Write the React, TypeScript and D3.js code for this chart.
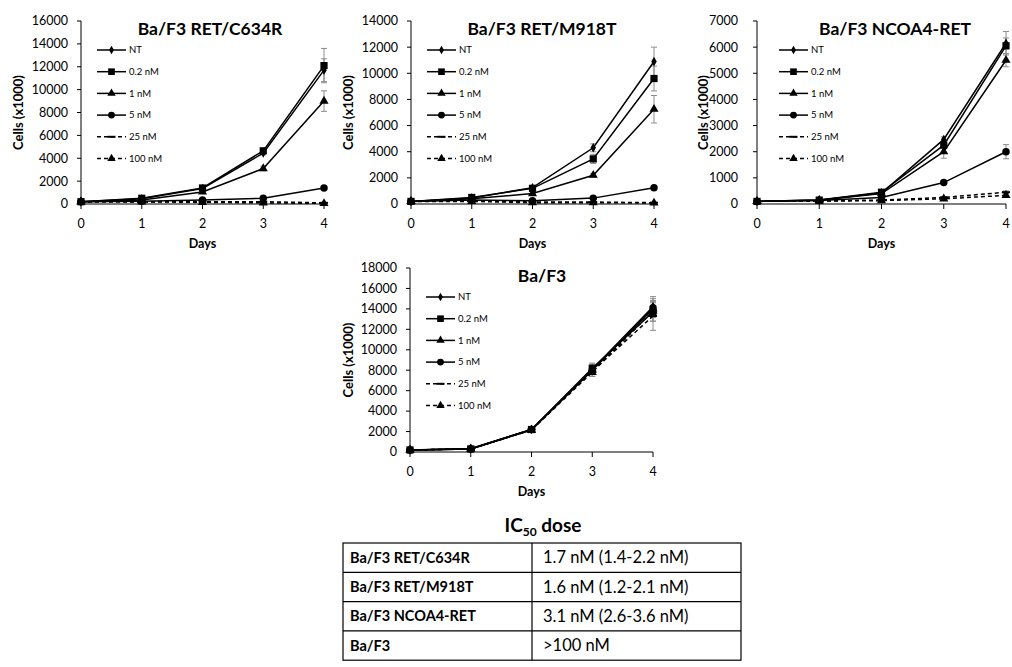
import React from 'react';
import * as d3 from 'd3';

// days on the x axis
const DAYS = [0, 1, 2, 3, 4];
const DOSES = ['NT', '0.2 nM', '1 nM', '5 nM', '25 nM', '100 nM'];

// Ba/F3 RET/C634R
const C634R_VALUES = [
  [200, 450, 1350, 4450, 11700],
  [200, 500, 1400, 4650, 12100],
  [200, 350, 1050, 3100, 9000],
  [200, 250, 350, 500, 1400],
  [200, 200, 200, 200, 100],
  [200, 180, 150, 100, 50],
];
const C634R_ERRORS = [
  [20, 30, 80, 150, 1000],
  [20, 30, 80, 200, 1500],
  [20, 20, 60, 200, 900],
  [10, 20, 30, 50, 100],
  [10, 10, 20, 20, 20],
  [10, 10, 10, 10, 10],
];

// Ba/F3 RET/M918T
const M918T_VALUES = [
  [200, 450, 1250, 4300, 10900],
  [200, 500, 1200, 3450, 9600],
  [200, 400, 800, 2200, 7250],
  [200, 300, 250, 450, 1250],
  [200, 250, 150, 150, 100],
  [200, 200, 100, 100, 80],
];
const M918T_ERRORS = [
  [20, 30, 60, 300, 1100],
  [20, 30, 60, 350, 950],
  [20, 20, 50, 150, 1050],
  [10, 20, 30, 50, 80],
  [10, 10, 20, 20, 20],
  [10, 10, 10, 10, 10],
];

// Ba/F3 NCOA4-RET
const NCOA4_VALUES = [
  [100, 150, 420, 2470, 6150],
  [100, 150, 450, 2250, 6050],
  [100, 140, 400, 2000, 5500],
  [100, 130, 250, 820, 2000],
  [100, 120, 150, 250, 450],
  [100, 110, 130, 200, 330],
];
const NCOA4_ERRORS = [
  [10, 10, 30, 100, 450],
  [10, 10, 30, 100, 300],
  [10, 10, 30, 250, 250],
  [10, 10, 20, 50, 270],
  [5, 5, 10, 30, 50],
  [5, 5, 10, 30, 50],
];

// Ba/F3 parental
const BAF3_VALUES = [
  [200, 350, 2200, 8100, 14200],
  [200, 300, 2200, 8200, 13700],
  [200, 300, 2150, 8000, 14000],
  [200, 300, 2200, 8000, 14100],
  [200, 300, 2200, 7900, 13300],
  [200, 300, 2150, 7800, 13800],
];
const BAF3_ERRORS = [
  [20, 30, 100, 500, 1000],
  [20, 30, 100, 500, 900],
  [20, 30, 100, 400, 800],
  [20, 30, 100, 400, 900],
  [20, 30, 100, 500, 1400],
  [20, 30, 100, 400, 1000],
];

// IC50 table
const IC50_LINES = ['Ba/F3 RET/C634R', 'Ba/F3 RET/M918T', 'Ba/F3 NCOA4-RET', 'Ba/F3'];
const IC50_DOSES = ['1.7 nM (1.4-2.2 nM)', '1.6 nM (1.2-2.1 nM)', '3.1 nM (2.6-3.6 nM)', '>100 nM'];

const FONT = 'Lato, "Open Sans", sans-serif';

const marker = (i: number, size = 1) => {
  const types = [d3.symbolDiamond, d3.symbolSquare, d3.symbolTriangle, d3.symbolCircle, null, d3.symbolTriangle];
  const areas = [26, 52, 36, 44, 0, 36];
  const t = types[i];
  if (!t) return null;
  return d3.symbol(t, areas[i] * size)();
};

type PanelProps = {
  title: string;
  values: number[][];
  errors: number[][];
  yMax: number;
  yStep: number;
  left: number;
  right: number;
  top: number;
  bottom: number;
  titleX: number;
  legendX: number;
  labelGap: number;
  axisLabelX: number;
};

const Panel = (p: PanelProps) => {
  const x = d3.scaleLinear().domain([0, 4]).range([p.left, p.right]);
  const y = d3.scaleLinear().domain([0, p.yMax]).range([p.bottom, p.top]);
  const yTicks = d3.range(0, p.yMax + 1, p.yStep);
  const line = d3.line<number>().x((_, i) => x(DAYS[i])).y(d => y(d));

  return (
    <g fontFamily={FONT}>
      {/* error bars */}
      {p.values.map((s, si) => (
        <g key={'e' + si} stroke="#8c8c8c" strokeWidth={1}>
          {s.map((v, i) => {
            const e = p.errors[si][i];
            const cx = x(DAYS[i]);
            return (
              <g key={i}>
                <line x1={cx} x2={cx} y1={y(v - e)} y2={y(v + e)} />
                <line x1={cx - 3} x2={cx + 3} y1={y(v - e)} y2={y(v - e)} />
                <line x1={cx - 3} x2={cx + 3} y1={y(v + e)} y2={y(v + e)} />
              </g>
            );
          })}
        </g>
      ))}
      {/* lines */}
      {p.values.map((s, si) => (
        <path key={'l' + si} d={line(s) || ''} fill="none" stroke="#000" strokeWidth={1.5}
          strokeDasharray={si >= 4 ? '4,3' : undefined} />
      ))}
      {/* markers */}
      {p.values.map((s, si) => (
        <g key={'m' + si}>
          {s.map((v, i) => si === 4 ? (
            <rect key={i} x={x(DAYS[i]) - 4} y={y(v) - 1} width={8} height={2} fill="#000" />
          ) : (
            <path key={i} d={marker(si) || ''} transform={`translate(${x(DAYS[i])},${y(v)})`} fill="#000" />
          ))}
        </g>
      ))}
      {/* axes */}
      <line x1={p.left} x2={p.left} y1={p.top} y2={p.bottom} stroke="#000" />
      <line x1={p.left} x2={p.right} y1={p.bottom} y2={p.bottom} stroke="#000" />
      {yTicks.map(t => (
        <g key={'yt' + t}>
          <line x1={p.left - 4} x2={p.left} y1={y(t)} y2={y(t)} stroke="#000" />
          <text x={p.left - p.labelGap} y={y(t)} dy="0.35em" textAnchor="end" fontSize={12.5}>{t}</text>
        </g>
      ))}
      {DAYS.map(d => (
        <g key={'xt' + d}>
          <line x1={x(d)} x2={x(d)} y1={p.bottom} y2={p.bottom + 5} stroke="#000" />
          <text x={x(d)} y={p.bottom + 24} textAnchor="middle" fontSize={12.5}>{d}</text>
        </g>
      ))}
      <text x={(p.left + p.right) / 2} y={p.bottom + 44} textAnchor="middle" fontSize={12.5} fontWeight="bold">Days</text>
      <text transform={`translate(${p.axisLabelX},${(p.top + p.bottom) / 2}) rotate(-90)`} dy="0.35em"
        textAnchor="middle" fontSize={13} fontWeight="bold">Cells (x1000)</text>
      <text x={p.titleX} y={p.top + 14} textAnchor="middle" fontSize={17.5} fontWeight="bold">{p.title}</text>
      {/* legend */}
      {DOSES.map((name, si) => {
        const ly = p.top + 29 + si * 21.7;
        return (
          <g key={'lg' + si}>
            <line x1={p.legendX} x2={p.legendX + 29} y1={ly} y2={ly} stroke="#000" strokeWidth={1.5}
              strokeDasharray={si >= 4 ? '4,3' : undefined} />
            {si === 4 ? (
              <rect x={p.legendX + 10.5} y={ly - 1} width={8} height={2} fill="#000" />
            ) : (
              <path d={marker(si, si === 0 ? 0.8 : 0.85) || ''} transform={`translate(${p.legendX + 14.5},${ly})`} fill="#000" />
            )}
            <text x={p.legendX + 32} y={ly} dy="0.35em" fontSize={9.5}>{name}</text>
          </g>
        );
      })}
    </g>
  );
};

const Ic50Table = () => {
  const left = 343, mid = 532, right = 741, top = 543, rowH = 29.3;
  return (
    <g fontFamily={FONT}>
      <text x={543} y={532} textAnchor="middle" fontSize={19} fontWeight="bold">
        IC<tspan fontSize={12} dy={4}>50</tspan><tspan dy={-4}> dose</tspan>
      </text>
      <rect x={left} y={top} width={right - left} height={rowH * 4} fill="none" stroke="#000" strokeWidth={1.2} />
      <line x1={mid} x2={mid} y1={top} y2={top + rowH * 4} stroke="#000" strokeWidth={1.2} />
      {IC50_LINES.map((name, i) => (
        <g key={name}>
          {i > 0 && <line x1={left} x2={right} y1={top + rowH * i} y2={top + rowH * i} stroke="#000" strokeWidth={1.2} />}
          <text x={left + 7} y={top + rowH * i + rowH / 2} dy="0.35em" fontSize={14.5} fontWeight="bold">{name}</text>
          <text x={mid + 11} y={top + rowH * i + rowH / 2} dy="0.35em" fontSize={16.5}>{IC50_DOSES[i]}</text>
        </g>
      ))}
    </g>
  );
};

export default function App() {
  return (
    <svg width={1012} height={667} style={{ position: 'absolute', left: 0, top: 0, background: '#fff' }}>
      <rect width={1012} height={667} fill="#fff" />
      <Panel title="Ba/F3 RET/C634R" values={C634R_VALUES} errors={C634R_ERRORS} yMax={16000} yStep={2000}
        left={81} right={324} top={21} bottom={204} titleX={210} legendX={97} labelGap={13} axisLabelX={18} />
      <Panel title="Ba/F3 RET/M918T" values={M918T_VALUES} errors={M918T_ERRORS} yMax={14000} yStep={2000}
        left={411} right={654} top={21} bottom={204} titleX={542} legendX={427} labelGap={13} axisLabelX={348} />
      <Panel title="Ba/F3 NCOA4-RET" values={NCOA4_VALUES} errors={NCOA4_ERRORS} yMax={7000} yStep={1000}
        left={757} right={1006} top={21} bottom={204} titleX={895} legendX={779} labelGap={19} axisLabelX={703} />
      <Panel title="Ba/F3" values={BAF3_VALUES} errors={BAF3_ERRORS} yMax={18000} yStep={2000}
        left={410} right={653} top={268} bottom={452} titleX={542} legendX={426} labelGap={13} axisLabelX={348} />
      <Ic50Table />
    </svg>
  );
}
